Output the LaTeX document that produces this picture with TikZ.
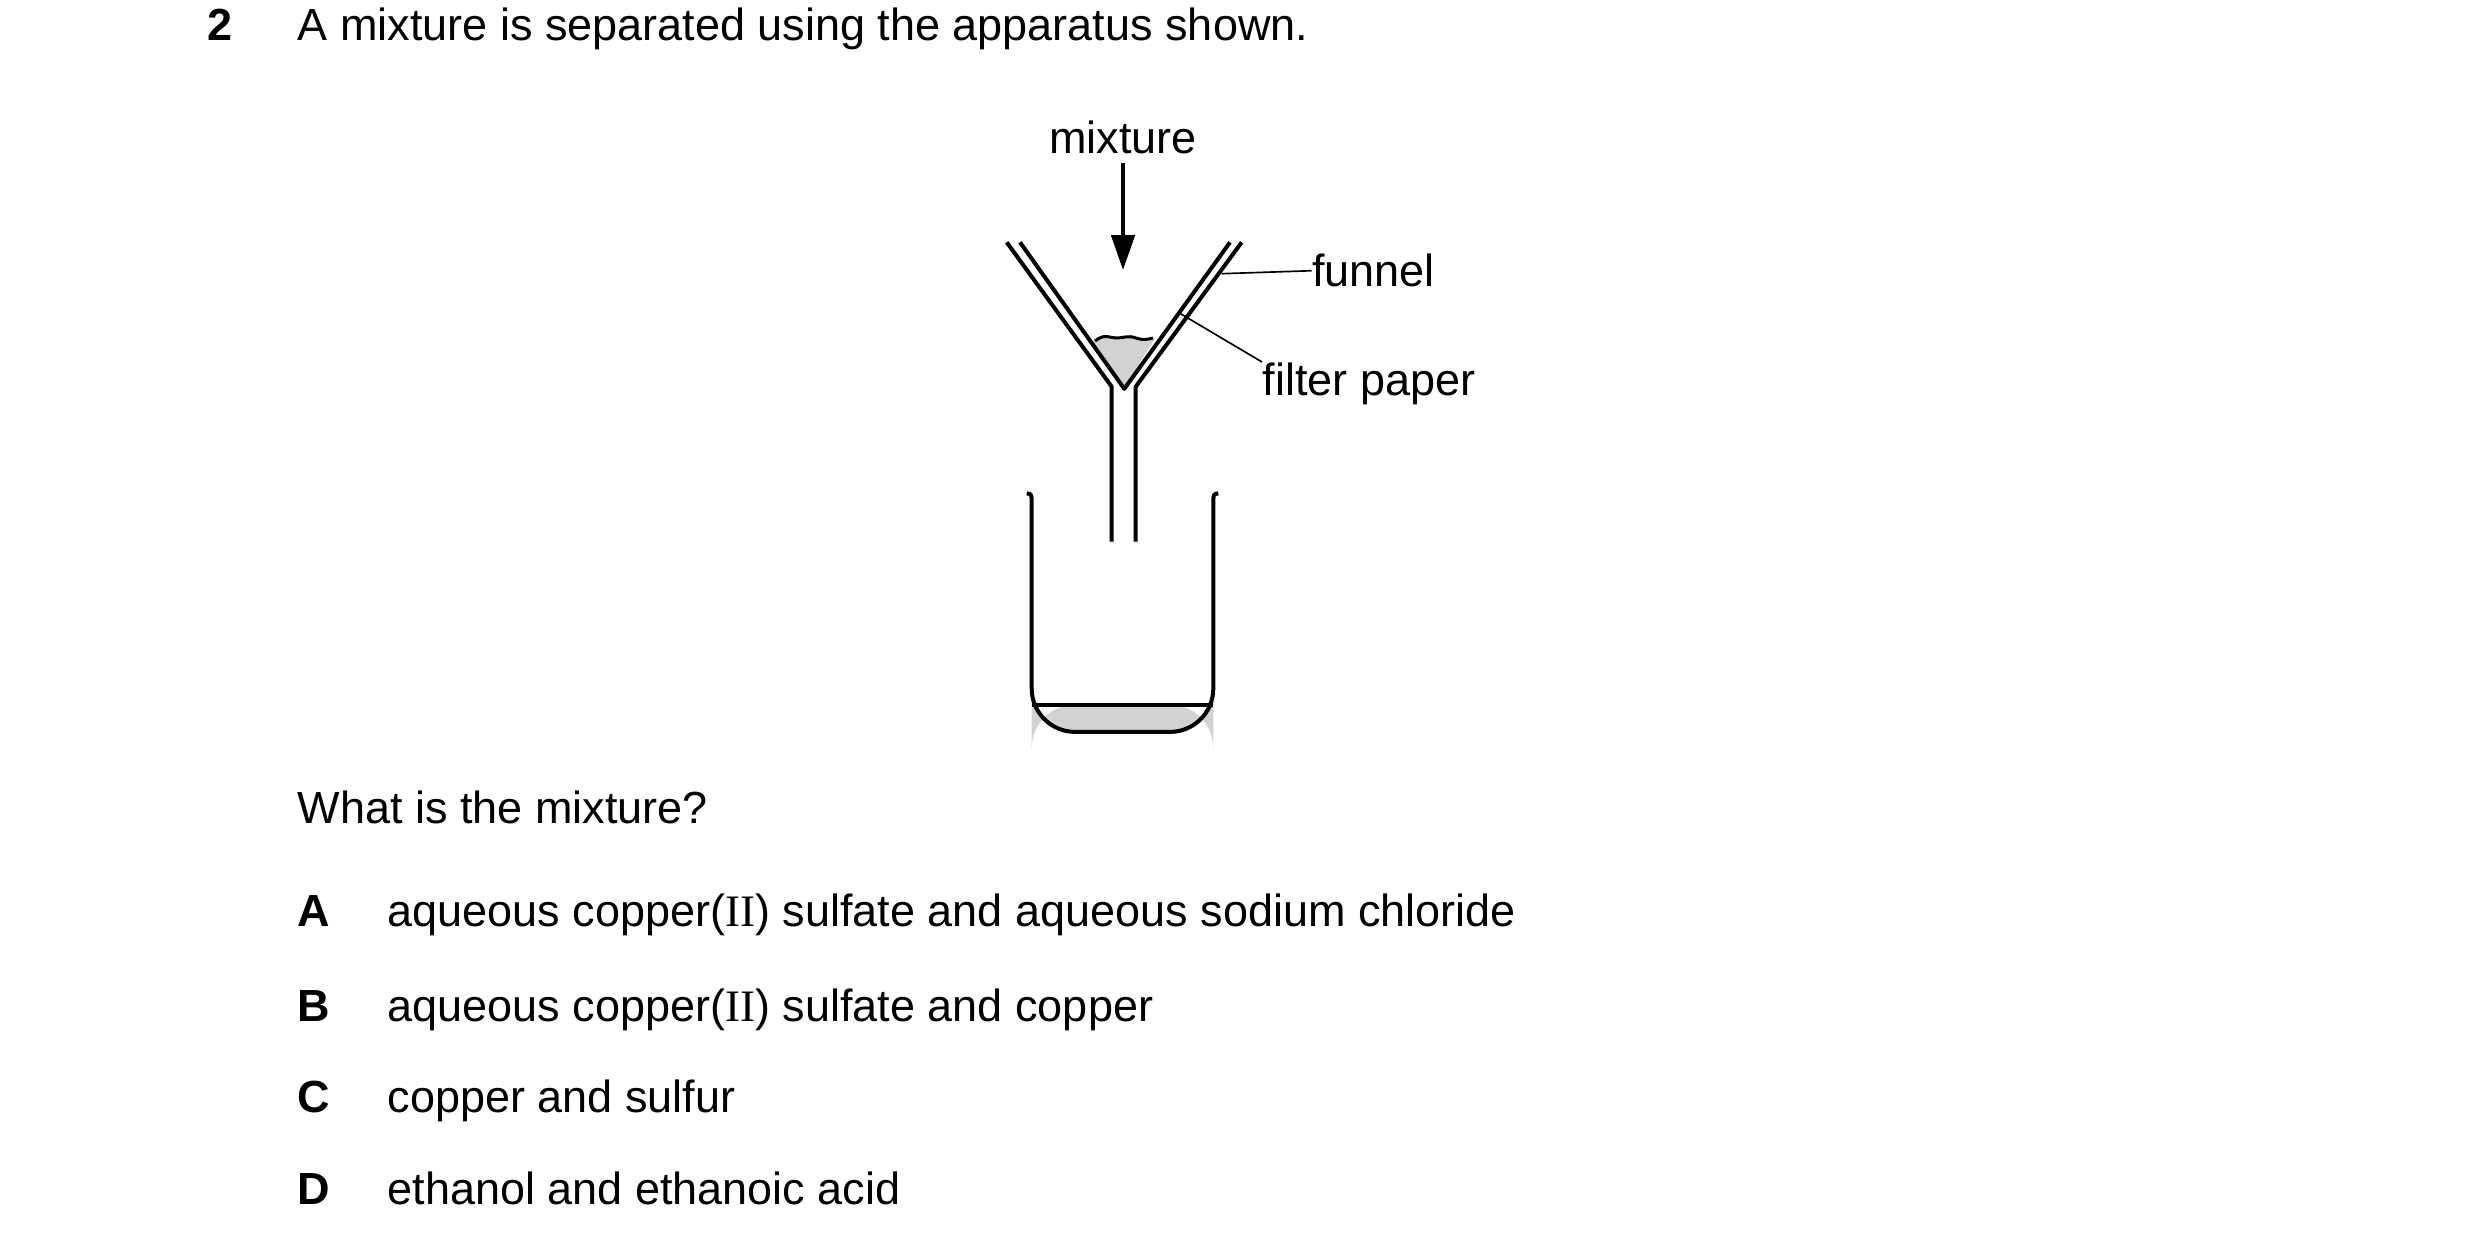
\documentclass[tikz,border=0pt]{standalone}
\usepackage{fontspec}
\setmainfont{Liberation Sans}
\newfontfamily\rmser{Liberation Serif}
\usetikzlibrary{arrows.meta}
\begin{document}
\begin{tikzpicture}[x=0.3pt,y=-0.3pt,
  txt/.style={anchor=mid west,inner sep=0pt,font=\fontsize{13.5}{16}\selectfont},
  lab/.style={anchor=mid west,inner sep=0pt,font=\fontsize{13.5}{16}\selectfont},
  glass/.style={line width=1.2pt,line join=round},
  lead/.style={line width=0.5pt}]
\useasboundingbox (0,0) rectangle (2480,1244);
\def\II{{\rmser II}}
% texts
\node[txt,font=\fontsize{13.5}{16}\selectfont\bfseries] (q) at (207,32) {2};
\node[txt] (stem) at (297,32) {A mixture is separated using the apparatus shown.};
\node[txt] (ask) at (297,815) {What is the mixture?};
\node[txt,font=\fontsize{13.5}{16}\selectfont\bfseries] (la) at (297,918) {A};
\node[txt] (ta) at (387,918) {aqueous copper(\II) sulfate and aqueous sodium chloride};
\node[txt,font=\fontsize{13.5}{16}\selectfont\bfseries] (lb) at (297,1013) {B};
\node[txt] (tb) at (387,1013) {aqueous copper(\II) sulfate and copper};
\node[txt,font=\fontsize{13.5}{16}\selectfont\bfseries] (lc) at (297,1104) {C};
\node[txt] (tc) at (387,1104) {copper and sulfur};
\node[txt,font=\fontsize{13.5}{16}\selectfont\bfseries] (ld) at (297,1196) {D};
\node[txt] (td) at (387,1196) {ethanol and ethanoic acid};
% mixture label and arrow
\node[inner sep=0pt,font=\fontsize{13.5}{16}\selectfont] (mix) at (1123,137) {mixture};
\coordinate (arrStart) at (1123,163);
\coordinate (arrEnd) at (1123,270);
\draw[line width=1.2pt,-{Triangle[length=10.5pt,width=7pt]}] (arrStart) -- (arrEnd);
% solid residue
\fill[gray!35] (1092,341) .. controls (1105,333) and (1110,338) .. (1116,338)
  .. controls (1124,338) and (1128,335) .. (1136,338)
  .. controls (1142,340) and (1146,340) .. (1155,338) -- (1124,389) -- cycle;
\draw[line width=0.9pt] (1095,341) .. controls (1105,333) and (1110,338) .. (1116,338)
  .. controls (1124,338) and (1128,335) .. (1136,338)
  .. controls (1142,340) and (1146,340) .. (1153,338);
% funnel
\draw[glass] (1006.7,242.3) -- (1111.7,386.7) -- (1111.7,541.5);
\draw[glass] (1241.7,242.3) -- (1135.7,386.7) -- (1135.7,541.5);
% filter paper
\draw[glass] (1020,242.3) -- (1124.3,388.8) -- (1230,242.3);
% beaker
\fill[gray!35,rounded corners=13] (1031.7,704.7) -- (1031.7,731.9) -- (1213.3,731.9) -- (1213.3,704.7) -- cycle;
\draw[glass] (1031.7,704.7) -- (1213.3,704.7);
\draw[glass,rounded corners=13] (1031.7,503.9) -- (1031.7,731.9) -- (1213.3,731.9) -- (1213.3,503.9);
\draw[glass] (1026.7,493.4) .. controls (1031.7,494) .. (1031.7,504);
\draw[glass] (1218.3,493.4) .. controls (1213.3,494) .. (1213.3,504);
% labels
\node[lab] (funnel) at (1311.7,278) {funnel};
\coordinate (fn) at (1221.7,273.7);
\draw[lead] (fn) -- (funnel.west);
\node[anchor=north west,inner sep=0pt,font=\fontsize{13.5}{16}\selectfont] (fp) at (1262,362) {filter paper};
\coordinate (fpp) at (1180,313.4);
\draw[lead] (fpp) -- (fp.north west);
\end{tikzpicture}
\end{document}
